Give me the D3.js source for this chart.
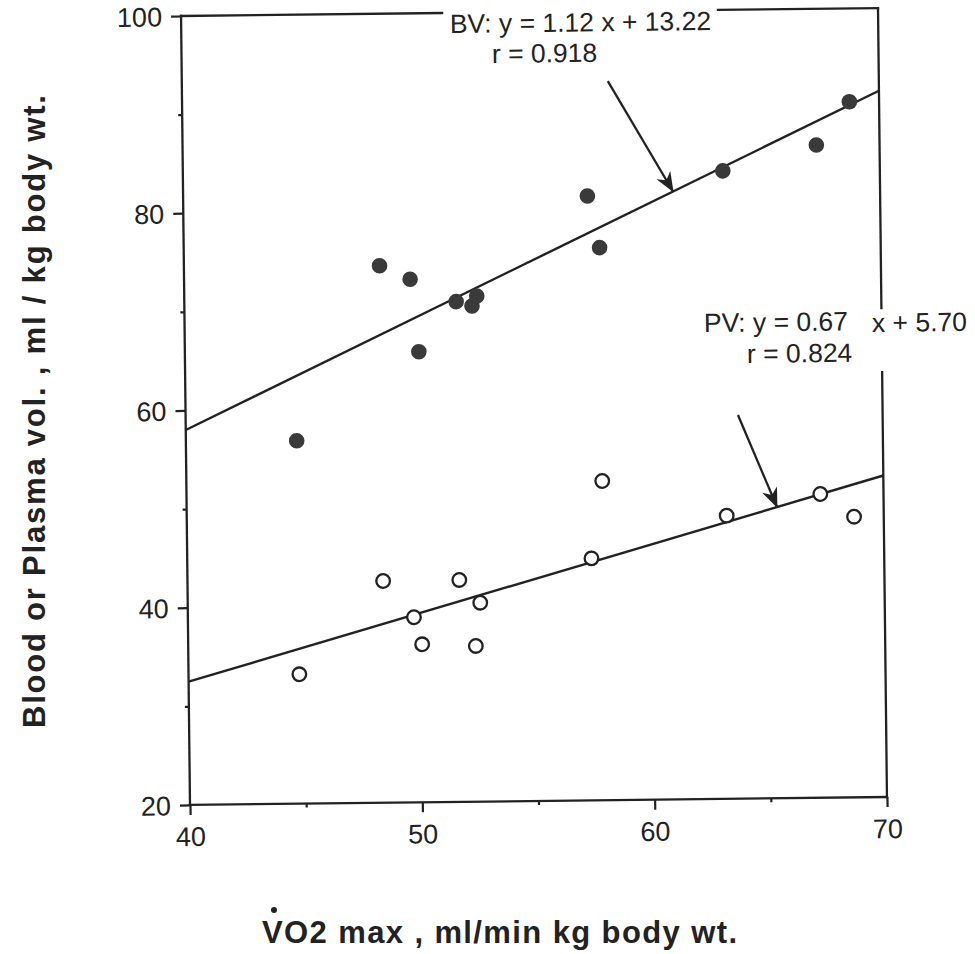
<!DOCTYPE html>
<html>
  <head>
    <meta charset="UTF-8" />
    <title>Blood and plasma volume vs VO2 max</title>
    <script src="https://d3js.org/d3.v7.min.js"></script>
    <style>
      body {
        margin: 0;
        background: #fff;
      }
      text {
        font-family: 'Liberation Sans', Arial, Helvetica, sans-serif;
        fill: #222;
      }
    </style>
  </head>

  <body>
    <div id="main"></div>
    <script type="text/javascript">
      // VO2 max of each subject (ml/min kg body wt.)
      const vo2 = [44.77, 48.42, 49.73, 50.07, 51.70, 52.38, 52.59, 57.40, 57.90, 63.24, 67.28, 68.72];
      // blood volume (filled dots) and plasma volume (open dots), ml / kg body wt.
      const bloodVol = [56.8, 74.45, 73.04, 65.69, 70.72, 70.26, 71.27, 81.28, 76.03, 83.67, 86.19, 90.54];
      const plasmaVol = [33.12, 42.48, 38.77, 36.02, 42.5, 35.79, 40.17, 44.54, 52.37, 48.71, 50.8, 48.46];

      // regression fits printed on the figure
      const fitNames = ['BV', 'PV'];
      const fitSlopes = [1.12, 0.67];
      const fitIntercepts = [13.22, 5.7];
      const fitR = ['0.918', '0.824'];

      const xTicks = [40, 50, 60, 70];
      const xMinorTicks = [45, 55, 65];
      const yTicks = [20, 40, 60, 80, 100];
      const yMinorTicks = [30, 50, 70, 90];

      const width = 975;
      const height = 954;
      const margin = { left: 185.5, top: 12 };
      const plotW = 697;
      const plotH = 789;
      const ink = '#222';

      const svg = d3
        .select('div#main')
        .append('svg')
        .attr('width', width)
        .attr('height', height);

      // the scanned figure is tilted a little, so the whole plot is rotated
      const g = svg
        .append('g')
        .attr('transform', `rotate(-0.65, 534, 406.5) translate(${margin.left},${margin.top})`);

      const x = d3.scaleLinear().domain([40, 70]).range([0, plotW]);
      const y = d3.scaleLinear().domain([20, 100]).range([plotH, 0]);

      // axes
      g.append('g')
        .attr('transform', `translate(0,${plotH})`)
        .call(d3.axisBottom(x).tickValues(xTicks).tickSize(10).tickSizeOuter(0).tickPadding(12));
      g.append('g')
        .attr('transform', `translate(0,${plotH})`)
        .call(d3.axisBottom(x).tickValues(xMinorTicks).tickSize(4).tickSizeOuter(0).tickFormat(''));
      const yAxis = g
        .append('g')
        .call(d3.axisLeft(y).tickValues(yTicks).tickSize(10).tickSizeOuter(0).tickPadding(9));
      g.append('g').call(d3.axisLeft(y).tickValues(yMinorTicks).tickSize(4).tickSizeOuter(0).tickFormat(''));

      g.selectAll('.domain').remove();
      g.selectAll('.tick line').attr('stroke', ink).attr('stroke-width', 2.2);
      g.selectAll('.tick text').attr('font-size', 27).attr('fill', ink);
      yAxis.selectAll('.tick text').attr('dy', '0.36em');

      // frame, broken where the fit labels sit
      const frame = [
        [0, 0, 0, plotH],
        [0, plotH, plotW, plotH],
        [0, 0, 261, 0],
        [537, 0, plotW, 0],
        [plotW, 0, plotW, 300],
        [plotW, 364, plotW, plotH],
      ];
      g.selectAll('line.frame')
        .data(frame)
        .join('line')
        .attr('class', 'frame')
        .attr('x1', (d) => d[0])
        .attr('y1', (d) => d[1])
        .attr('x2', (d) => d[2])
        .attr('y2', (d) => d[3])
        .attr('stroke', ink)
        .attr('stroke-width', 2.3)
        .attr('stroke-linecap', 'square');

      // regression lines
      const line = d3
        .line()
        .x((d) => x(d[0]))
        .y((d) => y(d[1]));
      fitSlopes.forEach((s, i) => {
        const pts = x.domain().map((v) => [v, s * v + fitIntercepts[i]]);
        g.append('path')
          .attr('d', line(pts))
          .attr('fill', 'none')
          .attr('stroke', ink)
          .attr('stroke-width', 2.4);
      });

      // points
      g.selectAll('circle.bv')
        .data(vo2)
        .join('circle')
        .attr('class', 'bv')
        .attr('cx', (d) => x(d))
        .attr('cy', (d, i) => y(bloodVol[i]))
        .attr('r', 7.8)
        .attr('fill', '#3a3a3a');

      g.selectAll('circle.pv')
        .data(vo2)
        .join('circle')
        .attr('class', 'pv')
        .attr('cx', (d) => x(d))
        .attr('cy', (d, i) => y(plasmaVol[i]))
        .attr('r', 6.8)
        .attr('fill', '#fff')
        .attr('stroke', ink)
        .attr('stroke-width', 2.3);

      // arrow marker
      svg
        .append('defs')
        .append('marker')
        .attr('id', 'head')
        .attr('viewBox', '-20 -10 22 20')
        .attr('refX', 0)
        .attr('refY', 0)
        .attr('markerWidth', 22)
        .attr('markerHeight', 20)
        .attr('markerUnits', 'userSpaceOnUse')
        .attr('orient', 'auto')
        .append('path')
        .attr('d', 'M1,0 L-19,-8 L-13,0 L-19,8 Z')
        .attr('fill', ink);

      // fit labels and arrows
      const labels = [
        { lines: [[268.7, 20, `${fitNames[0]}: y = ${fitSlopes[0].toFixed(2)} x + ${fitIntercepts[0].toFixed(2)}`], [310.4, 50.5, `r = ${fitR[0]}`]], tipX: 61.09, from: [-64, -111] },
        { lines: [[519.3, 322, `${fitNames[1]}: y = ${fitSlopes[1].toFixed(2)}`], [687.3, 323.8, `x + ${fitIntercepts[1].toFixed(2)}`], [562, 353.4, `r = ${fitR[1]}`]], tipX: 65.41, from: [-38, -92.5] },
      ];
      labels.forEach((lab, i) => {
        lab.lines.forEach((t) => {
          g.append('text').attr('x', t[0]).attr('y', t[1]).attr('font-size', 26.5).text(t[2]);
        });
        const tx = x(lab.tipX);
        const ty = y(fitSlopes[i] * lab.tipX + fitIntercepts[i]);
        g.append('line')
          .attr('x1', tx + lab.from[0])
          .attr('y1', ty + lab.from[1])
          .attr('x2', tx)
          .attr('y2', ty)
          .attr('stroke', ink)
          .attr('stroke-width', 2.3)
          .attr('marker-end', 'url(#head)');
      });

      // axis titles
      svg
        .append('text')
        .attr('x', 262)
        .attr('y', 943)
        .attr('font-size', 31)
        .attr('font-weight', 'bold')
        .attr('textLength', 475)
        .attr('lengthAdjust', 'spacing')
        .text('VO2 max , ml/min kg body wt.');
      // dot over the V (rate symbol)
      svg.append('circle').attr('cx', 274).attr('cy', 910).attr('r', 3).attr('fill', ink);

      svg
        .append('text')
        .attr('transform', 'translate(45,728) rotate(-90)')
        .attr('font-size', 31)
        .attr('font-weight', 'bold')
        .attr('textLength', 633)
        .attr('lengthAdjust', 'spacing')
        .text('Blood or Plasma vol. , ml / kg body wt.');
    </script>
  </body>
</html>
